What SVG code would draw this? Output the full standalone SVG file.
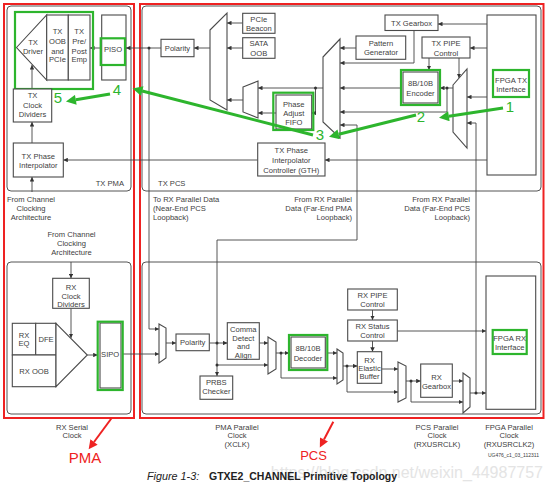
<svg xmlns="http://www.w3.org/2000/svg" width="553" height="491" viewBox="0 0 553 491">
<defs>
<style>
.b{fill:#fff;stroke:#4a4a4a;stroke-width:1.1}
.gr{fill:none;stroke:#2db52d;stroke-width:2.2}
.reg{fill:none;stroke:#555;stroke-width:1}
.red{fill:none;stroke:#ee2222;stroke-width:2}
.c{fill:none;stroke:#444;stroke-width:0.9;marker-end:url(#a)}
.d{fill:#333}
text{font-family:"Liberation Sans",Arial,sans-serif;fill:#404040}
.t{font-size:7.6px;text-anchor:middle}
.tl{font-size:7.6px}
.tr{font-size:7.6px;text-anchor:end}
.num{font-size:15px;fill:#2db52d;text-anchor:middle}
.ga{fill:none;stroke:#2db52d;stroke-width:3;marker-end:url(#gm)}
.ra{fill:none;stroke:#ee2222;stroke-width:2;marker-end:url(#rm)}
</style>
<marker id="a" viewBox="0 0 6 6" refX="6" refY="3" markerWidth="4.5" markerHeight="4.5" orient="auto" markerUnits="userSpaceOnUse"><path d="M0,0L6,3L0,6z" fill="#333"/></marker>
<marker id="gm" viewBox="0 0 10 10" refX="0" refY="5" markerWidth="11" markerHeight="10" orient="auto" markerUnits="userSpaceOnUse"><path d="M0,0L10,5L0,10z" fill="#2db52d"/></marker>
<marker id="rm" viewBox="0 0 10 10" refX="0" refY="5" markerWidth="10" markerHeight="9" orient="auto" markerUnits="userSpaceOnUse"><path d="M0,0L10,5L0,10z" fill="#ee2222"/></marker>
</defs>
<rect width="553" height="491" fill="#fff"/>

<g id="regions">
<rect class="reg" x="7" y="6" width="124" height="185" rx="4"/>
<rect class="reg" x="142" y="6" width="399" height="185" rx="4"/>
<rect class="reg" x="7" y="262" width="124" height="152" rx="4"/>
<rect class="reg" x="142" y="262" width="399" height="152" rx="4"/>
<rect class="red" x="4" y="4" width="130" height="414"/>
<rect class="red" x="140" y="4" width="403.5" height="414"/>
<text class="tr" x="124" y="186">TX PMA</text>
<text class="tl" x="158" y="186">TX PCS</text>
</g>

<g id="connectors">
<path class="c" d="M487,24H438"/>
<path class="c" d="M487,48H470"/>
<path class="c" d="M487,97H467"/>
<path class="c" d="M487,160H325"/>
<path class="c" d="M429,58V70"/>
<path class="c" d="M459,58V78"/>
<path class="c" d="M453,88H440"/>
<path class="c" d="M447,88V112H340"/>
<path class="c" d="M401,88H340"/>
<path class="c" d="M414,30.5V63H340"/>
<path class="c" d="M356,48H340"/>
<path class="c" d="M476,393V123H467"/>
<path class="c" d="M217,343V240H357V125H340"/>
<path class="c" d="M323,88H258"/>
<path class="c" d="M315.5,88V113H311.7"/>
<path class="c" d="M276,113H258"/>
<path class="c" d="M243,100H227"/>
<path class="c" d="M242.7,23H227"/>
<path class="c" d="M242.7,48H227"/>
<path class="c" d="M210,48H194"/>
<path class="c" d="M161,48H126"/>
<path class="c" d="M101.7,48H90"/>
<path class="c" d="M149,48V329H159"/>
<path class="c" d="M257.7,160H63.3"/>
<path class="c" d="M32,192V177"/>
<path class="c" d="M32,143V122"/>
<path class="c" d="M32,89V65"/>
<path class="c" d="M71,262V278.3"/>
<path class="c" d="M71,308.3V338"/>
<path class="c" d="M87.3,355H97.7"/>
<path class="c" d="M122.7,354H159"/>
<path class="c" d="M166,343H176"/>
<path class="c" d="M209.3,343H227.3"/>
<path class="c" d="M217,343V376"/>
<path class="c" d="M217,365H268"/>
<path class="c" d="M259.3,343H268"/>
<path class="c" d="M276,353H289"/>
<path class="c" d="M281,353V378H337"/>
<path class="c" d="M327.3,353H337"/>
<path class="c" d="M343,366H357.3"/>
<path class="c" d="M347,366V392H398"/>
<path class="c" d="M381.7,369H398"/>
<path class="c" d="M372.5,310V320"/>
<path class="c" d="M372.5,341V351.7"/>
<path class="c" d="M397.3,331H486"/>
<path class="c" d="M406,381H420.7"/>
<path class="c" d="M411,381V402H463"/>
<path class="c" d="M452.3,381H463"/>
<path class="c" d="M470,393H486"/>
<g class="d">
<circle cx="447" cy="88" r="1.5"/><circle cx="315.5" cy="88" r="1.5"/><circle cx="149" cy="48" r="1.5"/>
<circle cx="217" cy="343" r="1.5"/><circle cx="217" cy="365" r="1.5"/><circle cx="281" cy="353" r="1.5"/>
<circle cx="347" cy="366" r="1.5"/><circle cx="411" cy="381" r="1.5"/><circle cx="476" cy="393" r="1.5"/>
</g>
</g>

<g id="tx-driver">
<rect class="gr" x="15" y="12" width="78" height="77"/>
<polygon class="b" points="16.5,47.5 46.7,15 46.7,80"/>
<rect class="b" x="46.7" y="15" width="21.6" height="65"/>
<rect class="b" x="68.3" y="15" width="21.7" height="65"/>
<text class="t" x="33" y="45">TX</text><text class="t" x="33" y="53.5">Driver</text>
<text class="t" x="57.5" y="33.5">TX</text><text class="t" x="57.5" y="43.5">OOB</text><text class="t" x="57.5" y="53.5">and</text><text class="t" x="57.5" y="62.3">PCIe</text>
<text class="t" x="79.2" y="33.5">TX</text><text class="t" x="79.2" y="43.5">Pre/</text><text class="t" x="79.2" y="53.5">Post</text><text class="t" x="79.2" y="62.3">Emp</text>
</g>
<g id="piso">
<rect class="b" x="101.7" y="15" width="24.3" height="65"/>
<rect class="gr" x="100.7" y="38.3" width="24.3" height="26.7"/>
<text class="t" x="113" y="51.5">PISO</text>
</g>
<g id="tx-clock-dividers">
<rect class="b" x="13.3" y="89" width="38.4" height="33"/>
<text class="t" x="32.5" y="97.7">TX</text><text class="t" x="32.5" y="107.7">Clock</text><text class="t" x="32.5" y="117">Dividers</text>
</g>
<g id="tx-phase-interp">
<rect class="b" x="13.3" y="143" width="50" height="34"/>
<text class="t" x="38.3" y="158.7">TX Phase</text><text class="t" x="38.3" y="167.7">Interpolator</text>
</g>
<g id="tx-pma-clk-label">
<text class="t" x="31" y="201.5">From Channel</text><text class="t" x="31" y="210.5">Clocking</text><text class="t" x="31" y="219.5">Architecture</text>
</g>

<g id="tx-polarity">
<rect class="b" x="161" y="39.3" width="33" height="17.4"/>
<text class="t" x="177.5" y="50.7">Polarity</text>
</g>
<g id="tx-main-mux"><polygon class="b" points="210,30 227,13 227,110 210,100"/></g>
<g id="pcie-beacon">
<rect class="b" x="242.7" y="13.3" width="32.3" height="20"/>
<text class="t" x="258.8" y="21.7">PCIe</text><text class="t" x="258.8" y="30.8">Beacon</text>
</g>
<g id="sata-oob">
<rect class="b" x="242.7" y="37.7" width="32.3" height="20.6"/>
<text class="t" x="258.8" y="46">SATA</text><text class="t" x="258.8" y="56">OOB</text>
</g>
<g id="tx-small-mux"><polygon class="b" points="243,87 258,81 258,118 243,112"/></g>
<g id="phase-adjust-fifo">
<rect class="b" x="276" y="95" width="35.7" height="34"/>
<rect class="gr" x="273.3" y="92.7" width="40" height="37.3"/>
<text class="t" x="293.8" y="106.7">Phase</text><text class="t" x="293.8" y="116">Adjust</text><text class="t" x="293.8" y="125">FIFO</text>
</g>
<g id="tx-big-mux"><polygon class="b" points="323,57 340,39 340,138 323,122"/></g>
<g id="pattern-generator">
<rect class="b" x="356" y="36" width="49.7" height="23.3"/>
<text class="t" x="381" y="46">Pattern</text><text class="t" x="381" y="55">Generator</text>
</g>
<g id="tx-pi-controller">
<rect class="b" x="257.7" y="143" width="67.3" height="33"/>
<text class="t" x="291.3" y="153.4">TX Phase</text><text class="t" x="291.3" y="163.4">Interpolator</text><text class="t" x="291.3" y="172.7">Controller (GTH)</text>
</g>
<g id="tx-gearbox">
<rect class="b" x="385" y="15" width="53" height="15.5"/>
<text class="t" x="411.5" y="25.7">TX Gearbox</text>
</g>
<g id="tx-pipe-control">
<rect class="b" x="422" y="37" width="48" height="21"/>
<text class="t" x="446" y="46">TX PIPE</text><text class="t" x="446" y="56">Control</text>
</g>
<g id="encoder">
<rect class="b" x="403" y="72" width="35" height="31"/>
<rect class="gr" x="401" y="70" width="39" height="35"/>
<text class="t" x="420.5" y="86">8B/10B</text><text class="t" x="420.5" y="96">Encoder</text>
</g>
<g id="tx-right-mux"><polygon class="b" points="453,85 467,69 467,148 453,132"/></g>
<g id="fpga-tx-interface">
<rect class="b" x="487" y="15" width="49" height="160"/>
<rect class="gr" x="493" y="70" width="36" height="27"/>
<text class="t" x="511" y="82.7">FPGA TX</text><text class="t" x="511" y="92">Interface</text>
</g>

<g id="mid-labels">
<text class="tl" x="153" y="201.5">To RX Parallel Data</text><text class="tl" x="153" y="210.5">(Near-End PCS</text><text class="tl" x="153" y="219.5">Loopback)</text>
<text class="tr" x="352" y="201.5">From RX Parallel</text><text class="tr" x="352" y="210.5">Data (Far-End PMA</text><text class="tr" x="352" y="219.5">Loopback)</text>
<text class="tr" x="470" y="201.5">From RX Parallel</text><text class="tr" x="470" y="210.5">Data (Far-End PCS</text><text class="tr" x="470" y="219.5">Loopback)</text>
<text class="t" x="71.5" y="237">From Channel</text><text class="t" x="71.5" y="246">Clocking</text><text class="t" x="71.5" y="255">Architecture</text>
</g>

<g id="rx-clock-dividers">
<rect class="b" x="52.7" y="278.3" width="36.6" height="30"/>
<text class="t" x="71" y="290">RX</text><text class="t" x="71" y="298.7">Clock</text><text class="t" x="71" y="307">Dividers</text>
</g>
<g id="rx-eq">
<rect class="b" x="12.3" y="323.3" width="23.4" height="31.7"/>
<rect class="b" x="35.7" y="323.3" width="20.3" height="31.7"/>
<rect class="b" x="12.3" y="355" width="43.7" height="31.7"/>
<polygon class="b" points="56,323.3 87.3,355 56,386.7"/>
<text class="t" x="24" y="337.7">RX</text><text class="t" x="24" y="346">EQ</text>
<text class="t" x="46" y="342">DFE</text>
<text class="t" x="34" y="374.4">RX OOB</text>
</g>
<g id="sipo">
<rect class="b" x="100" y="323" width="21" height="65"/>
<rect class="gr" x="97.7" y="321.7" width="25" height="68.3"/>
<text class="t" x="110.2" y="357">SIPO</text>
</g>

<g id="rx-mux1"><polygon class="b" points="159,324 166,328 166,358 159,363"/></g>
<g id="rx-polarity">
<rect class="b" x="176" y="334" width="33.3" height="16.7"/>
<text class="t" x="192.7" y="345.4">Polarity</text>
</g>
<g id="comma">
<rect class="b" x="227.3" y="322.7" width="32" height="36.6"/>
<text class="t" x="243.3" y="332">Comma</text><text class="t" x="243.3" y="341">Detect</text><text class="t" x="243.3" y="349.4">and</text><text class="t" x="243.3" y="357.7">Align</text>
</g>
<g id="prbs">
<rect class="b" x="200" y="376" width="32.7" height="23.3"/>
<text class="t" x="216.3" y="385.4">PRBS</text><text class="t" x="216.3" y="393.7">Checker</text>
</g>
<g id="rx-mux2"><polygon class="b" points="268,337 276,342 276,369 268,374"/></g>
<g id="decoder">
<rect class="b" x="291" y="337" width="34.3" height="31"/>
<rect class="gr" x="289" y="335" width="38.3" height="35"/>
<text class="t" x="308" y="351">8B/10B</text><text class="t" x="308" y="361">Decoder</text>
</g>
<g id="rx-mux3"><polygon class="b" points="337,349 343,353 343,380 337,384"/></g>
<g id="elastic-buffer">
<rect class="b" x="357.3" y="351.7" width="24.4" height="31.6"/>
<text class="t" x="369.5" y="362.7">RX</text><text class="t" x="369.5" y="371">Elastic</text><text class="t" x="369.5" y="379.4">Buffer</text>
</g>
<g id="rx-pipe-control">
<rect class="b" x="347.7" y="289" width="49.6" height="21"/>
<text class="t" x="372.5" y="297.7">RX PIPE</text><text class="t" x="372.5" y="306.7">Control</text>
</g>
<g id="rx-status-control">
<rect class="b" x="347.7" y="320" width="49.6" height="21"/>
<text class="t" x="372.5" y="328.7">RX Status</text><text class="t" x="372.5" y="337.7">Control</text>
</g>
<g id="rx-mux4"><polygon class="b" points="398,362 406,366 406,398 398,402"/></g>
<g id="rx-gearbox">
<rect class="b" x="420.7" y="364" width="31.6" height="33.3"/>
<text class="t" x="436.5" y="380">RX</text><text class="t" x="436.5" y="388.7">Gearbox</text>
</g>
<g id="rx-mux5"><polygon class="b" points="463,373 470,378 470,407 463,413"/></g>
<g id="fpga-rx-interface">
<rect class="b" x="486" y="276" width="49.7" height="133.3"/>
<rect class="gr" x="492.7" y="330" width="34" height="24"/>
<text class="t" x="509.7" y="341">FPGA RX</text><text class="t" x="509.7" y="350">Interface</text>
</g>

<g id="bottom-labels">
<text class="t" x="72" y="429.5">RX Serial</text><text class="t" x="72" y="438">Clock</text>
<text class="t" x="237" y="429.5">PMA Parallel</text><text class="t" x="237" y="438">Clock</text><text class="t" x="237" y="446.5">(XCLK)</text>
<text class="t" x="437" y="429.5">PCS Parallel</text><text class="t" x="437" y="438">Clock</text><text class="t" x="437" y="446.5">(RXUSRCLK)</text>
<text class="t" x="509" y="429.5">FPGA Parallel</text><text class="t" x="509" y="438">Clock</text><text class="t" x="509" y="446.5">(RXUSRCLK2)</text>
<text x="488" y="457" style="font-size:5px">UG476_c1_03_112311</text>
</g>

<g id="annotations">
<path class="ga" d="M503,108L448.9,116.3"/>
<path class="ga" d="M416,115L338.7,134.3"/>
<path class="ga" d="M313,135L142.2,91"/>
<path class="ga" d="M110,94L75.8,99.8"/>
<text class="num" x="510" y="112">1</text>
<text class="num" x="421" y="122">2</text>
<text class="num" x="320" y="140">3</text>
<text class="num" x="117" y="95">4</text>
<text class="num" x="58" y="103">5</text>
<path class="ra" d="M111.7,418L94,442"/>
<path class="ra" d="M333.3,421.7L324,439.5"/>
<text x="85" y="463" style="font-size:15px;fill:#ee2222;text-anchor:middle">PMA</text>
<text x="313.5" y="460" style="font-size:13px;fill:#ee2222;text-anchor:middle">PCS</text>
</g>

<g id="caption">
<text x="543" y="478" style="font-size:16px;fill:#e4e4e4;text-anchor:end">https://blog.csdn.net/weixin_44987757</text>
<text x="147" y="479.5" style="font-size:10.8px;font-style:italic;fill:#222">Figure 1-3:</text>
<text x="209" y="479.5" style="font-size:10.5px;font-weight:bold;fill:#222">GTXE2_CHANNEL Primitive Topology</text>
</g>
</svg>
